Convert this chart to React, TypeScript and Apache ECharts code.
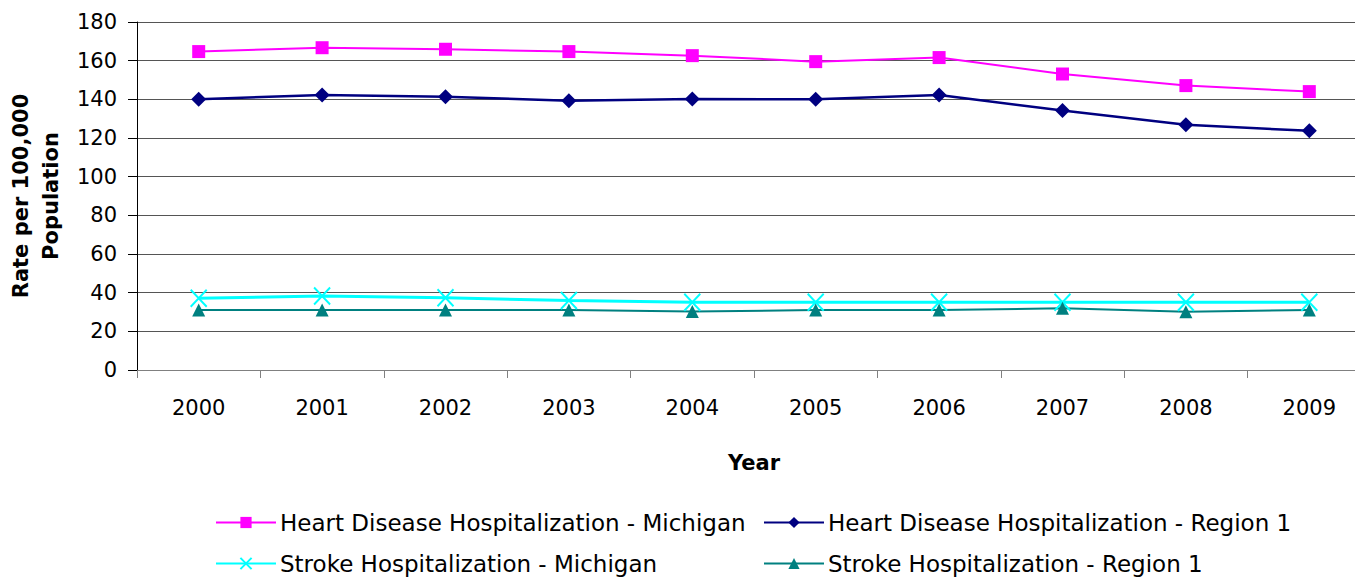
import React, { useEffect, useRef } from 'react';
import * as echarts from 'echarts';

const FONT = '"DejaVu Sans", sans-serif';

const YEARS = ['2000', '2001', '2002', '2003', '2004', '2005', '2006', '2007', '2008', '2009'];
const HEART_MICHIGAN = [164.7, 166.7, 165.9, 164.7, 162.6, 159.5, 161.6, 153.1, 147.1, 144.0];
const HEART_REGION1 = [140.0, 142.3, 141.4, 139.3, 140.2, 140.0, 142.3, 134.2, 126.8, 123.7];
const STROKE_MICHIGAN = [37.1, 38.3, 37.4, 35.9, 35.0, 35.0, 35.0, 35.0, 35.0, 35.0];
const STROKE_REGION1 = [31.0, 31.0, 31.0, 31.0, 30.2, 31.0, 31.0, 31.9, 30.1, 31.0];

const NAMES = [
  'Heart Disease Hospitalization - Michigan',
  'Heart Disease Hospitalization - Region 1',
  'Stroke Hospitalization - Michigan',
  'Stroke Hospitalization - Region 1',
];

// open "x" marker, drawn by its stroke only
const CROSS = 'path://M0,0L10,10M10,0L0,10';

const legendAt = (name: string, left: number, top: number) => ({
  show: true,
  data: [name],
  left,
  top,
  itemWidth: 60,
  itemHeight: 14,
  itemGap: 0,
  padding: 0,
  selectedMode: false,
  textStyle: { fontFamily: FONT, fontSize: 23, color: '#000', padding: [0, 0, 0, -1] },
});

const App: React.FC = () => {
  const divEL = useRef<HTMLDivElement>(null);

  useEffect(() => {
    const instance = echarts.init(divEL.current as any, null, { renderer: 'svg' });

    const option: any = {
      animation: false,
      backgroundColor: '#fff',
      textStyle: { fontFamily: FONT },
      grid: {
        left: 137,
        top: 22,
        width: 1234,
        height: 348,
        containLabel: false,
        outerBoundsMode: 'none',
      },
      legend: [
        legendAt(NAMES[0], 215, 511),
        legendAt(NAMES[1], 763, 511),
        legendAt(NAMES[2], 215, 552),
        legendAt(NAMES[3], 763, 552),
      ],
      xAxis: {
        type: 'category',
        data: YEARS,
        boundaryGap: true,
        name: 'Year',
        nameLocation: 'middle',
        nameGap: 82,
        nameTextStyle: { fontFamily: FONT, fontSize: 21, fontWeight: 'bold', color: '#000' },
        axisLine: { lineStyle: { color: '#808080', width: 1 } },
        axisTick: { show: true, length: 8, lineStyle: { color: '#808080' } },
        axisLabel: { fontFamily: FONT, fontSize: 21, color: '#000', margin: 27 },
        splitLine: { show: false },
      },
      yAxis: {
        type: 'value',
        min: 0,
        max: 180,
        interval: 20,
        name: 'Rate per 100,000\nPopulation',
        nameLocation: 'middle',
        nameGap: 62,
        nameRotate: 90,
        nameTextStyle: {
          fontFamily: FONT,
          fontSize: 21,
          fontWeight: 'bold',
          color: '#000',
          lineHeight: 30,
        },
        axisLine: { show: true, lineStyle: { color: '#000', width: 1 } },
        axisTick: { show: true, length: 9, lineStyle: { color: '#000' } },
        axisLabel: { fontFamily: FONT, fontSize: 21, color: '#000', margin: 20 },
        splitLine: { show: true, lineStyle: { color: '#555', width: 1 } },
      },
      series: [
        {
          name: NAMES[0],
          type: 'line',
          data: HEART_MICHIGAN,
          symbol: 'rect',
          symbolSize: 13,
          color: '#ff00ff',
          lineStyle: { color: '#ff00ff', width: 2 },
          itemStyle: { color: '#ff00ff' },
        },
        {
          name: NAMES[1],
          type: 'line',
          data: HEART_REGION1,
          symbol: 'diamond',
          symbolSize: 15,
          color: '#000080',
          lineStyle: { color: '#000080', width: 2.5 },
          itemStyle: { color: '#000080' },
        },
        {
          name: NAMES[2],
          type: 'line',
          data: STROKE_MICHIGAN,
          symbol: CROSS,
          symbolSize: [16, 17],
          color: '#00ffff',
          lineStyle: { color: '#00ffff', width: 3 },
          itemStyle: { color: '#00ffff', borderColor: '#00ffff', borderWidth: 2 },
        },
        {
          name: NAMES[3],
          type: 'line',
          data: STROKE_REGION1,
          symbol: 'triangle',
          symbolSize: 13,
          color: '#008080',
          lineStyle: { color: '#008080', width: 2 },
          itemStyle: { color: '#008080' },
        },
      ],
    };

    instance.setOption(option);

    return () => {
      instance.dispose();
    };
  }, []);

  return (
    <div
      ref={divEL}
      style={{ position: 'fixed', left: 0, top: 0, width: 1355, height: 579 }}
    ></div>
  );
};

export default App;
